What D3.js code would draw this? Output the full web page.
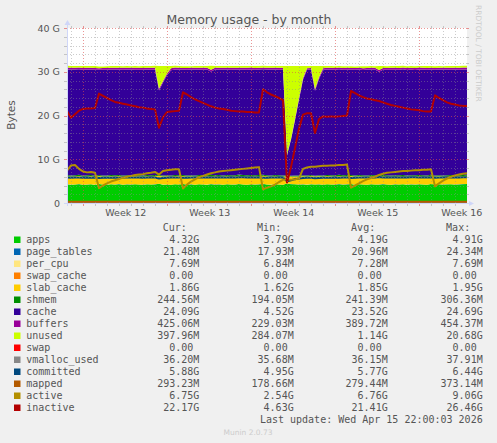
<!DOCTYPE html>
<html><head><meta charset="utf-8">
<script src="https://cdn.jsdelivr.net/npm/d3@7"></script>
<style>
html,body{margin:0;padding:0;background:#F0F0F0;}
svg{display:block;}
</style></head><body>
<svg id="chart" width="497" height="443"></svg>
<script>
// ---------------- DATA (values in G, base 1024) ----------------
const sampleStart = Date.UTC(2026, 2, 13, 15, 20);   // first sample
const sampleStepHours = 8;

const apps = [
4.25,4.18,4.22,4.30,4.15,4.20,4.28,4.12,4.35,4.22,
4.18,4.26,4.20,4.31,4.16,4.24,4.19,4.27,4.22,4.14,
4.29,4.21,4.25,4.40,4.18,4.23,4.17,4.26,4.21,4.33,
4.19,4.24,4.15,4.28,4.22,4.18,4.30,4.20,4.25,4.16,
4.27,4.21,4.19,4.32,4.23,4.17,4.26,4.20,4.24,4.36,
4.21,4.18,4.27,4.22,4.15,4.45,4.30,4.26,4.20,4.24,
4.18,4.29,4.21,4.25,4.17,4.28,4.22,4.19,4.31,4.20,
4.24,4.34,4.18,4.26,4.21,4.16,4.28,4.23,4.19,4.30,
4.22,4.17,4.25,4.21,4.27,4.18,4.24,4.20,4.29,4.22,
4.16,4.33,4.21,4.26,4.19,4.24,4.28,4.20,4.25,4.30,
4.32];
const page_tables = [
0.02,0.02,0.02,0.02,0.02,0.02,0.02,0.02,0.02,0.02,
0.02,0.02,0.02,0.02,0.02,0.02,0.02,0.02,0.02,0.02,
0.02,0.02,0.02,0.02,0.02,0.02,0.02,0.02,0.02,0.02,
0.02,0.02,0.02,0.02,0.02,0.02,0.02,0.02,0.02,0.02,
0.02,0.02,0.02,0.02,0.02,0.02,0.02,0.02,0.02,0.02,
0.02,0.02,0.02,0.02,0.02,0.02,0.02,0.02,0.02,0.02,
0.02,0.02,0.02,0.02,0.02,0.02,0.02,0.02,0.02,0.02,
0.02,0.02,0.02,0.02,0.02,0.02,0.02,0.02,0.02,0.02,
0.02,0.02,0.02,0.02,0.02,0.02,0.02,0.02,0.02,0.02,
0.02,0.02,0.02,0.02,0.02,0.02,0.02,0.02,0.02,0.02,
0.02];
const per_cpu = [
0.007,0.007,0.007,0.007,0.007,0.007,0.007,0.007,0.007,0.007,
0.007,0.007,0.007,0.007,0.007,0.007,0.007,0.007,0.007,0.007,
0.007,0.007,0.007,0.007,0.007,0.007,0.007,0.007,0.007,0.007,
0.007,0.007,0.007,0.007,0.007,0.007,0.007,0.007,0.007,0.007,
0.007,0.007,0.007,0.007,0.007,0.007,0.007,0.007,0.007,0.007,
0.007,0.007,0.007,0.007,0.007,0.007,0.007,0.007,0.007,0.007,
0.007,0.007,0.007,0.007,0.007,0.007,0.007,0.007,0.007,0.007,
0.007,0.007,0.007,0.007,0.007,0.007,0.007,0.007,0.007,0.007,
0.007,0.007,0.007,0.007,0.007,0.007,0.007,0.007,0.007,0.007,
0.007,0.007,0.007,0.007,0.007,0.007,0.007,0.007,0.007,0.007,
0.007];
const swap_cache = [
0,0,0,0,0,0,0,0,0,0, 0,0,0,0,0,0,0,0,0,0, 0,0,0,0,0,0,0,0,0,0,
0,0,0,0,0,0,0,0,0,0, 0,0,0,0,0,0,0,0,0,0, 0,0,0,0,0,0,0,0,0,0,
0,0,0,0,0,0,0,0,0,0, 0,0,0,0,0,0,0,0,0,0, 0,0,0,0,0,0,0,0,0,0,
0,0,0,0,0,0,0,0,0,0, 0];
const slab_cache = [
1.86,1.84,1.85,1.87,1.83,1.85,1.86,1.84,1.80,1.82,
1.84,1.85,1.86,1.85,1.87,1.86,1.85,1.88,1.86,1.85,
1.87,1.86,1.88,1.78,1.84,1.86,1.87,1.86,1.88,1.82,
1.83,1.85,1.86,1.87,1.86,1.88,1.87,1.86,1.88,1.87,
1.86,1.88,1.87,1.89,1.88,1.87,1.88,1.87,1.89,1.84,
1.85,1.86,1.87,1.88,1.87,1.65,1.72,1.78,1.82,1.85,
1.86,1.85,1.80,1.84,1.86,1.85,1.87,1.86,1.85,1.87,
1.86,1.82,1.84,1.85,1.86,1.85,1.87,1.86,1.85,1.86,
1.87,1.86,1.85,1.86,1.87,1.86,1.85,1.87,1.86,1.85,
1.86,1.85,1.83,1.84,1.85,1.86,1.85,1.86,1.85,1.86,
1.86];
const shmem = [
0.24,0.24,0.24,0.25,0.24,0.24,0.23,0.24,0.22,0.23,
0.24,0.24,0.24,0.24,0.25,0.24,0.24,0.24,0.24,0.25,
0.24,0.24,0.25,0.21,0.22,0.23,0.24,0.24,0.24,0.23,
0.23,0.24,0.24,0.24,0.25,0.24,0.24,0.25,0.24,0.24,
0.25,0.24,0.25,0.25,0.24,0.25,0.25,0.24,0.25,0.23,
0.23,0.24,0.24,0.24,0.25,0.19,0.21,0.22,0.23,0.24,
0.24,0.24,0.22,0.23,0.24,0.24,0.24,0.24,0.25,0.24,
0.25,0.23,0.24,0.24,0.24,0.24,0.25,0.24,0.24,0.24,
0.24,0.25,0.24,0.24,0.25,0.24,0.24,0.25,0.24,0.24,
0.24,0.25,0.23,0.24,0.24,0.24,0.25,0.24,0.24,0.24,
0.24];
const cache = [
24.15,24.22,24.18,24.10,24.20,24.17,24.12,24.25,24.05,24.16,
24.18,24.14,24.17,24.08,24.16,24.12,24.18,24.06,24.12,24.20,
24.08,24.12,24.10,19.32,21.26,22.87,24.06,24.14,24.14,24.08,
24.20,24.14,24.22,24.10,24.12,24.19,23.60,24.16,24.10,24.20,
24.10,24.12,24.16,24.00,24.12,24.15,24.12,24.10,24.10,24.10,
24.20,24.18,24.12,24.10,24.19,4.54,8.18,12.62,17.31,21.82,
24.15,24.09,19.41,22.01,24.15,24.12,24.18,24.14,24.12,24.12,
24.10,24.08,24.19,24.14,24.08,24.21,24.08,24.14,23.70,24.03,
24.10,24.17,24.10,24.12,24.15,24.12,24.16,24.06,24.10,24.18,
24.16,24.06,24.18,24.13,24.19,24.14,24.07,24.18,24.11,24.09,
24.09];
const buffers = [
0.42,0.41,0.40,0.42,0.43,0.41,0.42,0.40,0.38,0.39,
0.40,0.41,0.42,0.41,0.43,0.42,0.41,0.43,0.42,0.41,
0.42,0.43,0.42,0.36,0.38,0.40,0.41,0.42,0.41,0.37,
0.38,0.39,0.41,0.40,0.42,0.41,0.43,0.42,0.41,0.43,
0.42,0.44,0.43,0.42,0.44,0.43,0.42,0.44,0.43,0.38,
0.39,0.40,0.41,0.42,0.43,0.23,0.26,0.30,0.33,0.35,
0.37,0.38,0.34,0.36,0.38,0.39,0.40,0.39,0.41,0.40,
0.41,0.36,0.37,0.38,0.40,0.39,0.41,0.40,0.42,0.41,
0.42,0.41,0.43,0.42,0.41,0.43,0.42,0.44,0.43,0.42,
0.43,0.42,0.38,0.39,0.40,0.41,0.42,0.41,0.42,0.43,
0.43];
const unused = [
0.40,0.38,0.42,0.36,0.41,0.39,0.37,0.43,0.40,0.38,
0.41,0.36,0.39,0.42,0.38,0.40,0.37,0.41,0.39,0.43,
0.38,0.40,0.42,5.20,3.40,1.70,0.55,0.40,0.38,0.42,
0.39,0.37,0.41,0.38,0.43,0.36,0.90,0.39,0.42,0.38,
0.41,0.37,0.39,0.43,0.38,0.40,0.36,0.42,0.39,0.41,
0.38,0.40,0.37,0.41,0.39,20.20,16.60,12.10,7.40,2.80,
0.50,0.45,5.30,2.60,0.50,0.41,0.38,0.40,0.37,0.42,
0.39,0.41,0.38,0.36,0.42,0.39,0.41,0.37,0.90,0.43,
0.38,0.41,0.39,0.42,0.37,0.40,0.38,0.41,0.39,0.36,
0.42,0.38,0.40,0.41,0.37,0.39,0.42,0.38,0.40,0.41,
0.40];
const swap = [
0,0,0,0,0,0,0,0,0,0, 0,0,0,0,0,0,0,0,0,0, 0,0,0,0,0,0,0,0,0,0,
0,0,0,0,0,0,0,0,0,0, 0,0,0,0,0,0,0,0,0,0, 0,0,0,0,0,0,0,0,0,0,
0,0,0,0,0,0,0,0,0,0, 0,0,0,0,0,0,0,0,0,0, 0,0,0,0,0,0,0,0,0,0,
0,0,0,0,0,0,0,0,0,0, 0];
const vmalloc_used = [
0.035,0.035,0.035,0.035,0.035,0.035,0.035,0.035,0.035,0.035,
0.035,0.035,0.035,0.035,0.035,0.035,0.035,0.035,0.035,0.035,
0.035,0.035,0.035,0.037,0.035,0.035,0.035,0.035,0.035,0.035,
0.035,0.035,0.035,0.035,0.035,0.035,0.035,0.035,0.035,0.035,
0.035,0.035,0.035,0.035,0.035,0.035,0.035,0.035,0.035,0.035,
0.035,0.035,0.035,0.035,0.035,0.037,0.036,0.035,0.035,0.035,
0.035,0.035,0.035,0.035,0.035,0.035,0.035,0.035,0.035,0.035,
0.035,0.035,0.035,0.035,0.035,0.035,0.035,0.035,0.035,0.035,
0.035,0.035,0.035,0.035,0.035,0.035,0.035,0.035,0.035,0.035,
0.035,0.035,0.035,0.035,0.035,0.035,0.035,0.035,0.035,0.035,
0.035];
const committed = [
5.82,5.78,5.85,5.80,5.76,5.83,5.79,5.81,5.74,5.77,
5.80,5.78,5.83,5.79,5.82,5.85,5.80,5.84,5.81,5.79,
5.83,5.86,5.82,5.60,5.72,5.78,5.81,5.84,5.80,5.75,
5.77,5.80,5.82,5.85,5.81,5.84,5.87,5.83,5.86,5.82,
5.85,5.88,5.84,5.90,5.86,5.83,5.87,5.85,5.89,5.76,
5.78,5.81,5.83,5.86,5.82,4.95,5.20,5.45,5.62,5.70,
5.75,5.78,5.65,5.72,5.76,5.80,5.78,5.82,5.79,5.81,
5.84,5.74,5.78,5.80,5.83,5.81,5.85,5.82,5.95,5.84,
5.86,5.83,5.87,5.85,5.88,5.84,5.86,5.89,5.85,5.87,
5.84,5.88,5.76,5.80,5.83,5.86,5.84,5.87,5.85,5.88,
5.88];
const mapped = [
0.29,0.29,0.28,0.29,0.30,0.29,0.28,0.29,0.27,0.28,
0.28,0.29,0.29,0.28,0.29,0.30,0.29,0.29,0.28,0.29,
0.29,0.30,0.29,0.26,0.27,0.28,0.29,0.29,0.30,0.27,
0.27,0.28,0.28,0.29,0.29,0.30,0.29,0.29,0.30,0.29,
0.30,0.29,0.30,0.29,0.30,0.30,0.29,0.30,0.30,0.27,
0.28,0.28,0.29,0.29,0.30,0.18,0.22,0.25,0.27,0.28,
0.28,0.29,0.27,0.28,0.28,0.29,0.29,0.28,0.29,0.29,
0.29,0.27,0.28,0.28,0.29,0.28,0.29,0.29,0.28,0.29,
0.29,0.29,0.30,0.29,0.29,0.28,0.29,0.29,0.30,0.29,
0.29,0.29,0.27,0.28,0.28,0.29,0.29,0.29,0.28,0.29,
0.29];
const active = [
7.4,8.6,8.7,7.8,7.2,7.0,7.1,6.9,3.4,4.0,
4.5,4.9,5.2,5.5,5.8,6.0,6.2,6.4,6.5,6.6,
6.8,6.9,7.1,6.5,7.3,7.5,7.6,7.7,7.7,3.3,
4.2,4.9,5.4,5.9,6.2,6.5,6.8,7.0,7.2,7.3,
7.4,7.5,7.6,7.7,7.8,7.9,8.0,8.1,8.2,3.1,
3.5,3.8,4.2,4.8,5.3,5.4,5.3,5.4,5.6,7.8,
8.1,8.3,8.3,8.4,8.5,8.5,8.6,8.6,8.7,8.7,
8.8,3.5,4.0,4.5,5.0,5.4,5.7,6.0,6.4,6.7,
6.9,7.0,7.1,7.2,7.3,7.3,7.4,7.5,7.5,7.6,
7.6,7.7,3.8,4.5,5.1,5.6,6.0,6.3,6.5,6.7,
6.8];
const inactive = [
21.0,19.5,20.3,21.1,21.5,21.6,21.6,21.7,25.0,24.5,
24.0,23.5,23.1,22.9,22.7,22.5,22.3,22.1,21.9,21.8,
21.6,21.5,21.4,17.2,19.6,20.8,20.9,21.0,21.1,25.3,
24.8,24.2,23.7,23.3,22.9,22.5,22.1,21.8,21.6,21.5,
21.3,21.1,21.0,20.9,20.9,20.8,20.8,20.7,20.7,26.0,
25.3,24.8,24.4,24.0,23.5,4.7,8.2,12.6,17.0,20.2,
20.5,20.5,16.0,19.2,19.8,19.7,19.8,19.7,19.8,19.9,
20.0,25.6,25.1,24.6,24.2,23.9,23.7,23.5,23.3,23.0,
22.7,22.4,22.2,22.0,21.8,21.6,21.4,21.3,21.2,21.0,
20.9,20.9,24.6,24.0,23.5,23.0,22.7,22.5,22.3,22.2,
22.2];

const areaKeys = ["apps","page_tables","per_cpu","swap_cache","slab_cache","shmem","cache","buffers","unused","swap"];
const lineKeys = ["vmalloc_used","committed","mapped","active","inactive"];
const legendNames = ["apps","page_tables","per_cpu","swap_cache","slab_cache","shmem","cache","buffers","unused","swap","vmalloc_used","committed","mapped","active","inactive"];
const legendColors = ["#00CC00","#0066B3","#FFE680","#FF8000","#FFCC00","#008F00","#330099","#990099","#CCFF00","#FF0000","#888888","#00487D","#B35A00","#B38F00","#B30000"];
const legendCur = ["4.32G","21.48M","7.69M","0.00","1.86G","244.56M","24.09G","425.06M","397.96M","0.00","36.20M","5.88G","293.23M","6.75G","22.17G"];
const legendMin = ["3.79G","17.93M","6.84M","0.00","1.62G","194.05M","4.52G","229.03M","284.07M","0.00","35.68M","4.95G","178.66M","2.54G","4.63G"];
const legendAvg = ["4.19G","20.96M","7.28M","0.00","1.85G","241.39M","23.52G","389.72M","1.14G","0.00","36.15M","5.77G","279.44M","6.76G","21.41G"];
const legendMax = ["4.91G","24.34M","7.69M","0.00","1.95G","306.36M","24.69G","454.37M","20.68G","0.00","37.91M","6.44G","373.14M","9.06G","26.46G"];
const legendHeaders = ["Cur:","Min:","Avg:","Max:"];
const yTickValues = [0, 10, 20, 30, 40];
const yTickLabels = ["0", "10 G", "20 G", "30 G", "40 G"];
const titleText = "Memory usage - by month";
const yAxisTitle = "Bytes";
const lastUpdate = "Last update: Wed Apr 15 22:00:03 2026";
const footer = "Munin 2.0.73";
const sideText = "RRDTOOL / TOBI OETIKER";

// ---------------- CHART ----------------
const seriesByKey = {apps,page_tables,per_cpu,swap_cache,slab_cache,shmem,cache,buffers,unused,swap,
  vmalloc_used,committed,mapped,active,inactive};
const colorByKey = {};
legendNames.forEach((k,i)=>colorByKey[k]=legendColors[i]);

const times = apps.map((_, i) => new Date(sampleStart + i * sampleStepHours * 3600e3));
const rows = times.map((t, i) => {
  const r = {t};
  areaKeys.concat(lineKeys).forEach(k => r[k] = seriesByKey[k][i]);
  return r;
});

const L = 67, R = 467, T = 28, B = 203;
const svg = d3.select("#chart");
const sans = "'DejaVu Sans', Verdana, sans-serif";
const mono = "'DejaVu Sans Mono', monospace";
const fontCol = "#555";

const x = d3.scaleUtc().domain(d3.extent(times)).range([L, R]);
const y = d3.scaleLinear().domain([0, 40]).range([B, T]);

// canvas
svg.append("rect").attr("x", L).attr("y", T).attr("width", R - L).attr("height", B - T).attr("fill", "#fff");

svg.append("clipPath").attr("id", "clip").append("rect")
  .attr("x", L).attr("y", T - 1).attr("width", R - L).attr("height", B - T + 1);
const plot = svg.append("g").attr("clip-path", "url(#clip)");

// stacked areas
const stacked = d3.stack().keys(areaKeys)(rows);
const area = d3.area().x(d => x(d.data.t)).y0(d => y(d[0])).y1(d => y(d[1]));
plot.selectAll("path.area").data(stacked).join("path")
  .attr("class", "area").attr("d", area).attr("fill", d => colorByKey[d.key]);

// lines
const line = d3.line().x((v, i) => x(times[i])).y(v => y(v));
lineKeys.forEach(k => {
  plot.append("path").attr("d", line(seriesByKey[k])).attr("fill", "none")
    .attr("stroke", colorByKey[k]).attr("stroke-width", 2).attr("stroke-linejoin", "round");
});

// grid (on top, translucent)
const minorCol = "rgba(143,143,143,0.45)", majorCol = "rgba(222,79,79,0.6)";
const grid = svg.append("g");
const [d0, d1] = x.domain();
const weeks = d3.utcSunday.range(d0, d1);
const weekSet = new Set(weeks.map(d => +d));
const days = d3.utcDay.range(d0, d1).filter(d => !weekSet.has(+d));
const yMinor = y.ticks(20).filter(v => !yTickValues.includes(v));

function hLine(v, col) {
  const yy = Math.round(y(v)) + 0.5;
  grid.append("line").attr("x1", L).attr("x2", R).attr("y1", yy).attr("y2", yy)
    .attr("stroke", col).attr("stroke-dasharray", "1,2");
  grid.append("line").attr("x1", L - 3).attr("x2", L).attr("y1", yy).attr("y2", yy).attr("stroke", col);
  grid.append("line").attr("x1", R).attr("x2", R + 2).attr("y1", yy).attr("y2", yy).attr("stroke", col);
}
function vLine(d, col) {
  const xx = Math.round(x(d)) + 0.5;
  grid.append("line").attr("x1", xx).attr("x2", xx).attr("y1", T).attr("y2", B)
    .attr("stroke", col).attr("stroke-dasharray", "1,2");
  grid.append("line").attr("x1", xx).attr("x2", xx).attr("y1", B).attr("y2", B + 3).attr("stroke", col);
  grid.append("line").attr("x1", xx).attr("x2", xx).attr("y1", T - 2).attr("y2", T).attr("stroke", col);
}
yMinor.forEach(v => hLine(v, minorCol));
days.forEach(d => vLine(d, minorCol));
yTickValues.forEach(v => hLine(v, majorCol));
weeks.forEach(d => vLine(d, majorCol));

// axes lines + arrows
const axisCol = "#CFD6F8";
svg.append("line").attr("x1", L + 0.5).attr("x2", L + 0.5).attr("y1", B + 3).attr("y2", T - 5).attr("stroke", axisCol);
svg.append("path").attr("d", `M${L - 2.5},${T - 3}L${L + 3.5},${T - 3}L${L + 0.5},${T - 8}Z`).attr("fill", axisCol);
svg.append("line").attr("x1", L - 3).attr("x2", R + 3).attr("y1", B + 0.5).attr("y2", B + 0.5).attr("stroke", axisCol);
svg.append("path").attr("d", `M${R + 2},${B - 2}L${R + 2},${B + 3}L${R + 7},${B + 0.5}Z`).attr("fill", axisCol);

// y tick labels via axis
const yAxis = d3.axisLeft(y).tickValues(yTickValues)
  .tickFormat((d, i) => yTickLabels[i]).tickSize(0).tickPadding(7);
const gy = svg.append("g").attr("transform", `translate(${L},0)`).call(yAxis);
gy.select(".domain").remove();
gy.selectAll("text").attr("font-family", sans).attr("font-size", 9.5).attr("fill", fontCol);

// x labels: "Week N" centred mid-week
const labelTimes = d3.utcSunday.range(d3.utcDay.offset(d0, -7), d1)
  .map(d => new Date(+d + 3.5 * 864e5)).filter(d => d >= d0 && d <= d1);
const weekFmt = d3.utcFormat("%V");
const xAxis = d3.axisBottom(x).tickValues(labelTimes)
  .tickFormat(d => "Week " + (+weekFmt(d))).tickSize(0).tickPadding(5.8);
const gx = svg.append("g").attr("transform", `translate(0,${B})`).call(xAxis);
gx.select(".domain").remove();
gx.selectAll("text").attr("font-family", sans).attr("font-size", 9.5).attr("fill", fontCol);

// title & axis title
svg.append("text").attr("x", 249).attr("y", 23.5).attr("text-anchor", "middle")
  .attr("font-family", sans).attr("font-size", 12.5).attr("fill", fontCol).text(titleText);
svg.append("text").attr("transform", "translate(15,115) rotate(-90)").attr("text-anchor", "middle")
  .attr("font-family", sans).attr("font-size", 10.5).attr("fill", fontCol).text(yAxisTitle);
svg.append("text").attr("transform", "translate(476,5) rotate(90)")
  .attr("font-family", sans).attr("font-size", 7.5).attr("fill", "#ccc").text(sideText);

// legend
const colRight = [199.3, 293.7, 387.7, 482.7];
const lg = svg.append("g").attr("font-family", mono).attr("font-size", 10).attr("fill", fontCol);
legendHeaders.forEach((h, c) => {
  lg.append("text").attr("x", colRight[c] - 12.5).attr("y", 231).attr("text-anchor", "end").text(h);
});
const cols = [legendCur, legendMin, legendAvg, legendMax];
legendNames.forEach((n, i) => {
  const by = 243 + i * 12;
  lg.append("rect").attr("x", 14).attr("y", by - 6.5).attr("width", 6.5).attr("height", 6.5)
    .attr("fill", legendColors[i]);
  lg.append("text").attr("x", 26.3).attr("y", by).text(n);
  cols.forEach((arr, c) => {
    const s = arr[i];
    const shift = /\d$/.test(s) ? 6.02 : 0;
    lg.append("text").attr("x", colRight[c] - shift).attr("y", by).attr("text-anchor", "end").text(s);
  });
});
lg.append("text").attr("x", 482.7).attr("y", 423).attr("text-anchor", "end").text(lastUpdate);
svg.append("text").attr("x", 248).attr("y", 435).attr("text-anchor", "middle")
  .attr("font-family", sans).attr("font-size", 7.5).attr("fill", "#ccc").text(footer);
</script>
</body></html>
